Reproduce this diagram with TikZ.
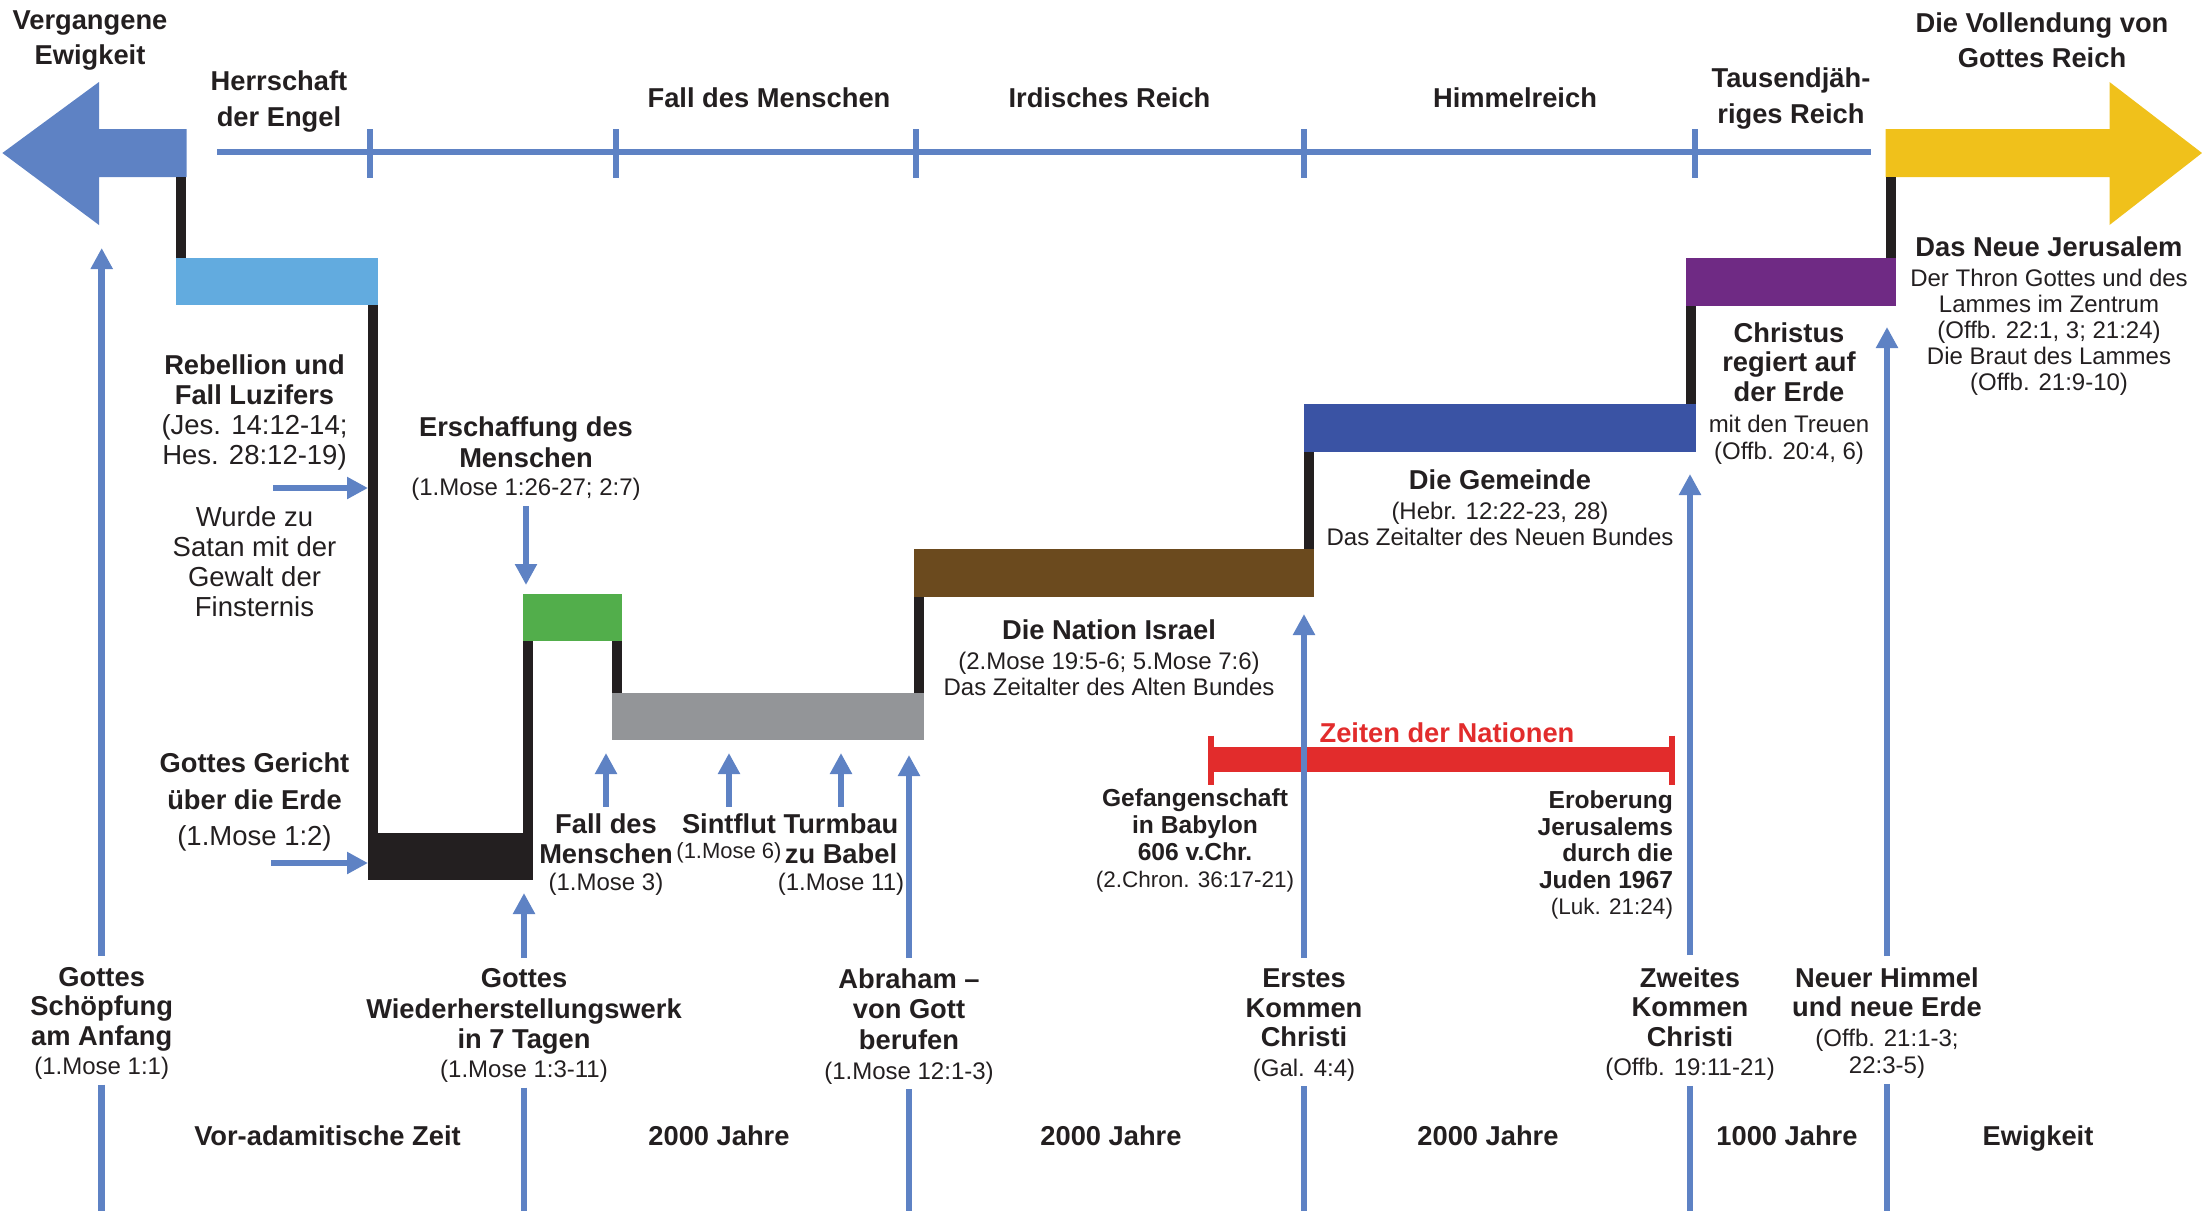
\documentclass[tikz,border=0pt]{standalone}
\usepackage{fontspec}
\setmainfont{Liberation Sans}
\usetikzlibrary{arrows.meta, calc, fit}

\definecolor{tlblue}{RGB}{94,130,196}
\definecolor{ink}{RGB}{35,31,32}
\definecolor{cEngel}{RGB}{98,171,223}
\definecolor{cAdam}{RGB}{82,174,75}
\definecolor{cGrau}{RGB}{147,149,152}
\definecolor{cIsrael}{RGB}{107,74,30}
\definecolor{cGemeinde}{RGB}{58,83,164}
\definecolor{cReich}{RGB}{111,42,132}
\definecolor{cGold}{RGB}{240,193,27}
\definecolor{cRot}{RGB}{226,44,44}

\newcommand{\kopf}{\fontsize{13.65}{13}\selectfont\bfseries}
\newcommand{\kopfs}{\fontsize{12.3}{13}\selectfont\bfseries}

\tikzset{
  lbl/.style={align=center, anchor=north, inner sep=0pt, outer sep=0pt, text=ink, font=\fontsize{12}{13}\selectfont},
  toplbl/.style={lbl, font=\fontsize{13.65}{17.5}\selectfont\bfseries},
  sidelbl/.style={lbl, font=\fontsize{13.75}{15}\selectfont},
  footlbl/.style={lbl, font=\fontsize{12}{14.75}\selectfont},
  spanlbl/.style={anchor=base, inner sep=0pt, text=ink, font=\fontsize{13.65}{15}\selectfont\bfseries},
  era/.style={inner sep=0pt, outer sep=0pt, draw=none},
  link/.style={ink, line width=5pt},
  tline/.style={tlblue, line width=3.25pt},
  uparrow/.style={tline, ->},
}

\begin{document}
\begin{tikzpicture}[x=0.5pt, y=-0.5pt, >={Triangle[width=10.5pt,length=10.5pt]}]
	\useasboundingbox (0,0) rectangle (2202,1211);
	\coordinate (bottom) at (0,1211);

	\fill[tlblue] (186.6,129) -- (99,129) -- (99,82) -- (2.4,153) -- (99,225) coordinate (pasthead)
		-- (99,177) -- (186.6,177) coordinate (pastfoot) -- cycle;
	\fill[cGold] (1885.5,129) -- (2109.5,129) -- (2109.5,82) -- (2202,153) -- (2109.5,225)
		-- (2109.5,177) -- (1885.5,177) coordinate (futurefoot) -- cycle;

	\draw[tline] (217,152) -- (1871,152);
	\foreach \x in {370,616,916,1304,1695}
		\draw[tline] (\x,129) -- (\x,178);

	\node[era, fill=cEngel, fit={(176,258) (378,305)}] (engel) {};
	\node[era, fill=ink, fit={(368,833) (533,880)}] (chaos) {};
	\node[era, fill=cAdam, fit={(523,594) (622,641)}] (adam) {};
	\node[era, fill=cGrau, fit={(612,693) (924,740)}] (menschen) {};
	\node[era, fill=cIsrael, fit={(914,549) (1314,597)}] (israel) {};
	\node[era, fill=cGemeinde, fit={(1304,404) (1696,452)}] (gemeinde) {};
	\node[era, fill=cReich, fit={(1686,258) (1896,306)}] (reich) {};

	\draw[link] ($(engel.north west)+(5,0)$) -- ($(engel.north west |- pastfoot)+(5,0)$);
	\draw[link] ($(engel.south east)+(-5,0)$) -- ($(engel.south east |- chaos.north)+(-5,0)$);
	\draw[link] ($(chaos.north east)+(-5,0)$) -- ($(chaos.north east |- adam.south)+(-5,0)$);
	\draw[link] ($(adam.south east)+(-5,0)$) -- ($(adam.south east |- menschen.north)+(-5,0)$);
	\draw[link] ($(menschen.north east)+(-5,0)$) -- ($(menschen.north east |- israel.south)+(-5,0)$);
	\draw[link] ($(israel.north east)+(-5,0)$) -- ($(israel.north east |- gemeinde.south)+(-5,0)$);
	\draw[link] ($(gemeinde.north east)+(-5,0)$) -- ($(gemeinde.north east |- reich.south)+(-5,0)$);
	\draw[link] ($(reich.north east)+(-5,0)$) -- ($(reich.north east |- futurefoot)+(-5,0)$);

	% Zeiten der Nationen
	\coordinate (zeitA) at (1211,759.5);
	\coordinate (zeitB) at (1672,759.5);
	\draw[cRot, line width=12.5pt] (zeitA) -- (zeitB);
	\draw[cRot, line width=3pt] ($(zeitA)+(0,-24)$) -- ($(zeitA)+(0,25)$);
	\draw[cRot, line width=3pt] ($(zeitB)+(0,-24)$) -- ($(zeitB)+(0,25)$);
	\node[spanlbl, text=cRot] (zeiten) at (1447,742) {Zeiten der Nationen};

	\node[toplbl] (vergangen) at (90,11) {Vergangene\\Ewigkeit};
	\node[toplbl] (engeltxt) at (279,70.7) {Herrschaft\\[0.5pt]der Engel};
	\node[toplbl] (falltxt) at (769,88) {Fall des Menschen};
	\node[toplbl] (irdtxt) at (1109.5,88) {Irdisches Reich};
	\node[toplbl] (himtxt) at (1515,88) {Himmelreich};
	\node[toplbl] (tausendtxt) at (1791,68) {Tausendjäh-\\[0.5pt]riges Reich};
	\node[toplbl] (vollendtxt) at (2042,13) {Die Vollendung von\\Gottes Reich};

	\node[lbl] (jerusalem) at (2049,237) {{\kopf Das Neue Jerusalem}\\[2pt]Der Thron Gottes und des\\Lammes im Zentrum\\(Offb. 22:1, 3; 21:24)\\Die Braut des Lammes\\(Offb. 21:9-10)};
	\node[lbl] (christus) at (1789,322.7) {{\kopf Christus}\\[1.75pt]{\kopf regiert auf}\\[1.75pt]{\kopf der Erde}\\[2.5pt]mit den Treuen\\[0.5pt](Offb. 20:4, 6)};
	\node[lbl] (gemtxt) at (1500,470) {{\kopf Die Gemeinde}\\[1.65pt](Hebr. 12:22-23, 28)\\Das Zeitalter des Neuen Bundes};
	\node[lbl] (israeltxt) at (1109,619.6) {{\kopf Die Nation Israel}\\[2pt](2.Mose 19:5-6; 5.Mose 7:6)\\Das Zeitalter des Alten Bundes};
	\node[lbl, font=\fontsize{11.25}{13.4}\selectfont] (babylon) at (1195,789) {{\kopfs Gefangenschaft}\\{\kopfs in Babylon}\\{\kopfs 606 v.Chr.}\\(2.Chron. 36:17-21)};
	\node[lbl, anchor=north east, align=right, font=\fontsize{11.25}{13.2}\selectfont] (eroberung) at (1673,791) {{\kopfs Eroberung}\\{\kopfs Jerusalems}\\{\kopfs durch die}\\{\kopfs Juden 1967}\\(Luk. 21:24)};

	\node[sidelbl] (rebellion) at (254.5,354.7) {{\kopf Rebellion und}\\{\kopf Fall Luzifers}\\(Jes. 14:12-14;\\Hes. 28:12-19)};
	\node[sidelbl] (satan) at (254.5,506.8) {Wurde zu\\Satan mit der\\Gewalt der\\Finsternis};
	\node[sidelbl, font=\fontsize{13.75}{18.2}\selectfont] (gerichttxt) at (254.5,753) {{\kopf Gottes Gericht}\\{\kopf über die Erde}\\(1.Mose 1:2)};
	\node[lbl] (erschaffung) at (526,416.8) {{\kopf Erschaffung des}\\[2.3pt]{\kopf Menschen}\\[1pt](1.Mose 1:26-27; 2:7)};
	\node[lbl] (falldes) at (606,813.7) {{\kopf Fall des}\\[2pt]{\kopf Menschen}\\[0.65pt](1.Mose 3)};
	\node[lbl, font=\fontsize{11}{12.5}\selectfont] (sintflut) at (729,813.7) {{\kopf Sintflut}\\(1.Mose 6)};
	\node[lbl] (turmbau) at (841,813.7) {{\kopf Turmbau}\\[2pt]{\kopf zu Babel}\\[0.5pt](1.Mose 11)};

	\node[footlbl] (schoepf) at (101.7,967) {{\kopf Gottes}\\{\kopf Schöpfung}\\{\kopf am Anfang}\\(1.Mose 1:1)};
	\node[footlbl] (wieder) at (524,968) {{\kopf Gottes}\\[1pt]{\kopf Wiederherstellungswerk}\\{\kopf in 7 Tagen}\\(1.Mose 1:3-11)};
	\node[footlbl] (abraham) at (909,969) {{\kopf Abraham –}\\{\kopf von Gott}\\[1pt]{\kopf berufen}\\(1.Mose 12:1-3)};
	\node[footlbl] (erstes) at (1304,969) {{\kopf Erstes}\\{\kopf Kommen}\\{\kopf Christi}\\(Gal. 4:4)};
	\node[footlbl] (zweites) at (1690,967.7) {{\kopf Zweites}\\{\kopf Kommen}\\{\kopf Christi}\\(Offb. 19:11-21)};
	\node[footlbl] (neuer) at (1887,967.7) {{\kopf Neuer Himmel}\\{\kopf und neue Erde}\\(Offb. 21:1-3;\\[-1pt]22:3-5)};

	\node[spanlbl] (vorzeit) at (327.5,1145) {Vor-adamitische Zeit};
	\node[spanlbl] (adamzeit) at (719,1145) {2000 Jahre};
	\node[spanlbl] (israelzeit) at (1111,1145) {2000 Jahre};
	\node[spanlbl] (gemeindezeit) at (1488,1145) {2000 Jahre};
	\node[spanlbl] (reichzeit) at (1787,1145) {1000 Jahre};
	\node[spanlbl] (ewigzeit) at (2038,1145) {Ewigkeit};

	\draw[uparrow] ([yshift=5.5pt]schoepf.north) -- ($(schoepf.north |- pasthead)+(0,23)$);
	\draw[uparrow] ([yshift=5pt]wieder.north) -- ($(wieder.north |- chaos.south)+(0,13)$);
	\draw[uparrow] ([yshift=5.5pt]abraham.north) -- ($(abraham.north |- menschen.south)+(0,15)$);
	\draw[uparrow] ([yshift=5.5pt]erstes.north) -- ($(erstes.north |- israel.south)+(0,17)$);
	\draw[uparrow] ([yshift=6.3pt]zweites.north) -- ($(zweites.north |- gemeinde.south)+(0,22)$);
	\draw[uparrow] ([yshift=5.8pt]neuer.north) -- ($(neuer.north |- reich.south)+(0,21)$);
	\foreach \n in {schoepf,wieder,abraham,erstes,zweites,neuer}
		\draw[tline] ([yshift=-2.5pt]\n.south) -- (\n.south |- bottom);

	\foreach \n in {falldes,sintflut,turmbau}
		\draw[uparrow] ([yshift=3.5pt]\n.north) -- ($(\n.north |- menschen.south)+(0,13)$);

	\coordinate (luzifer) at (273,488);
	\coordinate (gericht) at (271,863);
	\draw[uparrow] (luzifer) -- ($(luzifer -| engel.east)+(-10,0)$);
	\draw[uparrow] (gericht) -- (gericht -| chaos.west);
	\draw[uparrow] ([yshift=-3pt]erschaffung.south) -- ($(erschaffung.south |- adam.north)+(0,-9)$);
\end{tikzpicture}
\end{document}
